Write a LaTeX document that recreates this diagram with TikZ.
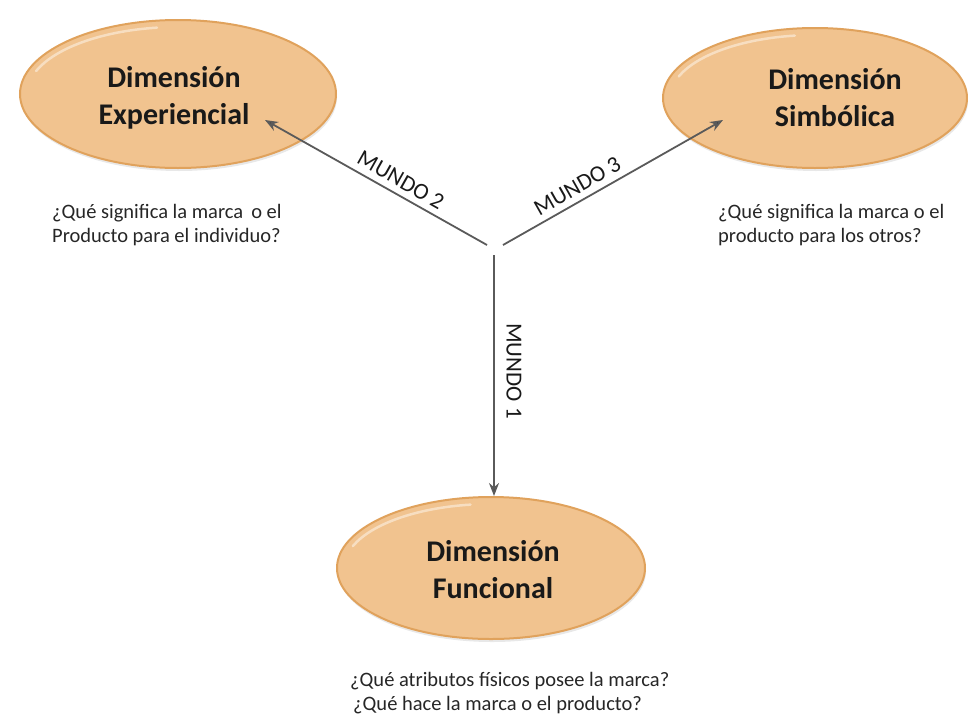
\documentclass[tikz,border=0pt]{standalone}
\usepackage{fontspec}
\setmainfont{Carlito}
\usetikzlibrary{shapes.geometric,arrows.meta,shadows,calc}
\definecolor{ellfill}{HTML}{F1C38F}
\definecolor{ellline}{HTML}{E0A25C}
\definecolor{arrgray}{HTML}{5A5A5A}
\tikzset{
  dimell/.style={ellipse, fill=ellfill, draw=ellline, line width=2pt, inner sep=0pt,
     drop shadow={opacity=0.18, shadow xshift=1pt, shadow yshift=-3pt}},
  hl/.style={draw=white, opacity=0.45, line width=2.5pt, line cap=round},
  dimtext/.style={font=\bfseries\fontsize{30}{37}\selectfont, align=center, text=black!90, inner sep=0pt},
  qtext/.style={font=\fontsize{20.5}{24}\selectfont, inner sep=0pt, text=black!85},
  mundo/.style={font=\fontsize{23}{26}\selectfont, inner sep=0pt, text=black!90},
  arr/.style={draw=arrgray, line width=1.8pt, -{Stealth[length=13pt,width=10pt,fill=black!85]}},
}
\begin{document}
\begin{tikzpicture}[x=1pt,y=-1pt]
\useasboundingbox (0,0) rectangle (968,715);
% ellipses
\node[dimell, minimum width=316pt, minimum height=148pt] (e1) at (178,94) {};
\node[dimell, minimum width=304pt, minimum height=140pt] (e3) at (815,98) {};
\node[dimell, minimum width=308pt, minimum height=142pt] (e2) at (491,568) {};
% highlights
\draw[hl] ($(e1.center)+({151*cos(200)},{67*sin(200)})$) arc[start angle=200, end angle=262, x radius=151, y radius=67];
\draw[hl] ($(e3.center)+({145*cos(200)},{63*sin(200)})$) arc[start angle=200, end angle=262, x radius=145, y radius=63];
\draw[hl] ($(e2.center)+({147*cos(200)},{64*sin(200)})$) arc[start angle=200, end angle=262, x radius=147, y radius=64];
% titles
\node[dimtext] (t1) at (174,98) {Dimensión\\Experiencial};
\node[dimtext] (t3) at (835,98) {Dimensión\\Simbólica};
\node[dimtext] (t2) at (493,570) {Dimensión\\Funcional};
% connector points
\coordinate (o2) at (487,245);
\coordinate (o3) at (503,245);
\coordinate (o1) at (494,255);
\coordinate (p2) at (265,120);
\coordinate (p3) at (723,120);
\draw[arr] (o2) -- (p2) node[mundo, pos=0.42, above=6pt, sloped] (m2) {MUNDO 2};
\draw[arr] (o3) -- (p3) node[mundo, pos=0.37, above=6pt, sloped] (m3) {MUNDO 3};
\draw[arr] (o1) -- (o1 |- e2.north);
\node[mundo, rotate=-90] (m1) at (514,371) {MUNDO 1};
% questions
\node[qtext, anchor=west, align=left] (q1) at (52,225) {¿Qué significa la marca\, o el\\Producto para el individuo?};
\node[qtext, anchor=west, align=left] (q3) at (718,225) {¿Qué significa la marca o el\\producto para los otros?};
\node[qtext, anchor=west, align=left] (q2) at (350,693) {¿Qué atributos físicos posee la marca?\\\hspace*{3pt}¿Qué hace la marca o el producto?};
\end{tikzpicture}
\end{document}
